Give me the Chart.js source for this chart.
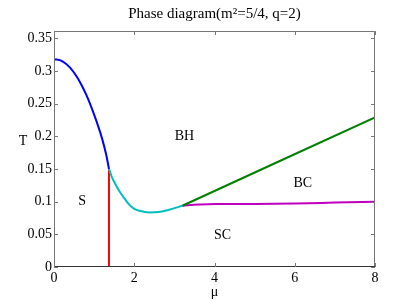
<!DOCTYPE html>
<html>
<head>
<meta charset="utf-8">
<script src="https://cdn.jsdelivr.net/npm/chart.js@4/dist/chart.umd.min.js"></script>
<style>
  html, body { margin: 0; padding: 0; background: #fff; }
  #wrap { width: 415px; height: 301px; }
</style>
</head>
<body>
<div id="wrap"><canvas id="c" width="415" height="301"></canvas></div>
<script>
// phase boundary curves (mu, T)
const blueMu = [0, 0.2, 0.4, 0.6, 0.8, 1.0, 1.2, 1.3, 1.37];
const blueT = [0.318, 0.315, 0.305, 0.288, 0.264, 0.233, 0.196, 0.172, 0.15];
const cyanMu = [1.37, 1.44, 1.51, 1.63, 1.76, 1.88, 2.0, 2.13, 2.38, 2.6, 2.87, 3.2];
const cyanT = [0.15, 0.138, 0.129, 0.116, 0.1045, 0.095, 0.089, 0.086, 0.0835, 0.084, 0.0877, 0.0937];
const redMu = [1.37, 1.37];
const redT = [0, 0.15];
const greenMu = [3.2, 8];
const greenT = [0.0937, 0.229];
const magentaMu = [3.2, 3.6, 4, 5, 6, 7, 8];
const magentaT = [0.0937, 0.0955, 0.0965, 0.0965, 0.097, 0.0985, 0.1];

const xTicks = [0, 2, 4, 6, 8];
const yTicks = [0, 0.05, 0.1, 0.15, 0.2, 0.25, 0.3, 0.35];

// region names and where they sit (mu, T)
const regionNames = ["BH", "S", "BC", "SC"];
const regionMu = [3.25, 0.7, 6.2, 4.2];
const regionT = [0.2, 0.1, 0.128, 0.048];

const serif = "'Liberation Serif', 'DejaVu Serif', serif";

const pts = (xs, ys) => xs.map((x, i) => ({ x: x, y: ys[i] }));

const mkSet = (xs, ys, color) => ({
  data: pts(xs, ys),
  borderColor: color,
  borderWidth: 2,
  pointRadius: 0,
  showLine: true,
  fill: false,
  cubicInterpolationMode: "monotone",
});

// box, inward ticks, T label and region names
const decor = {
  id: "decor",
  afterDraw(chart) {
    const ctx = chart.ctx;
    const a = chart.chartArea;
    const xs = chart.scales.x;
    const ys = chart.scales.y;
    ctx.save();
    ctx.lineWidth = 1;
    ctx.strokeStyle = "#777";
    ctx.beginPath();
    ctx.moveTo(a.left + 0.5, a.bottom);
    ctx.lineTo(a.left + 0.5, a.top + 0.5);
    ctx.lineTo(a.right - 0.5, a.top + 0.5);
    ctx.lineTo(a.right - 0.5, a.bottom);
    ctx.stroke();
    ctx.strokeStyle = "#333";
    ctx.beginPath();
    ctx.moveTo(a.left, a.bottom - 0.5);
    ctx.lineTo(a.right, a.bottom - 0.5);
    ctx.stroke();

    ctx.strokeStyle = "#777";
    ctx.beginPath();
    xTicks.forEach(v => {
      const px = Math.round(xs.getPixelForValue(v)) + 0.5;
      ctx.moveTo(px, a.bottom);
      ctx.lineTo(px, a.bottom - 4);
      ctx.moveTo(px, a.top);
      ctx.lineTo(px, a.top + 4);
    });
    yTicks.forEach(v => {
      const py = Math.round(ys.getPixelForValue(v)) + 0.5;
      ctx.moveTo(a.left, py);
      ctx.lineTo(a.left + 4, py);
      ctx.moveTo(a.right, py);
      ctx.lineTo(a.right - 4, py);
    });
    ctx.stroke();

    ctx.fillStyle = "#000";
    ctx.font = "14px " + serif;
    ctx.textAlign = "center";
    ctx.textBaseline = "middle";
    ctx.fillText("T", 23, ys.getPixelForValue(0.193));
    regionNames.forEach((name, i) => {
      ctx.fillText(name, xs.getPixelForValue(regionMu[i]), ys.getPixelForValue(regionT[i]));
    });
    ctx.restore();
  }
};

new Chart(document.getElementById("c"), {
  type: "scatter",
  data: {
    datasets: [
      mkSet(blueMu, blueT, "#0000ff"),
      mkSet(cyanMu, cyanT, "#00bfbf"),
      mkSet(redMu, redT, "#ff0000"),
      mkSet(greenMu, greenT, "#008000"),
      mkSet(magentaMu, magentaT, "#bf00bf"),
    ],
  },
  options: {
    responsive: false,
    animation: false,
    layout: { padding: { left: 0, right: 40, top: 0, bottom: 0 } },
    plugins: {
      legend: { display: false },
      tooltip: { enabled: false },
      title: {
        display: true,
        fullSize: false,
        text: "Phase diagram(m\u00B2=5/4, q=2)",
        color: "#000",
        font: { family: serif, size: 15, weight: "normal" },
        padding: { top: 5, bottom: 8 },
      },
    },
    scales: {
      x: {
        type: "linear",
        min: 0,
        max: 8,
        afterBuildTicks: s => { s.ticks = xTicks.map(v => ({ value: v })); },
        afterFit: s => { s.height = 34; },
        grid: { display: false, drawTicks: false },
        border: { display: false },
        ticks: { color: "#000", padding: 3, font: { family: serif, size: 14 } },
        title: {
          display: true,
          text: "\u03BC",
          color: "#000",
          padding: 0,
          font: { family: serif, size: 14 },
        },
      },
      y: {
        type: "linear",
        min: 0,
        max: 0.361,
        afterBuildTicks: s => { s.ticks = yTicks.map(v => ({ value: v })); },
        afterFit: s => { s.width = 54; },
        grid: { display: false, drawTicks: false },
        border: { display: false },
        ticks: {
          color: "#000",
          padding: 2,
          font: { family: serif, size: 14 },
          callback: v => String(Math.round(v * 100) / 100),
        },
      },
    },
  },
  plugins: [decor],
});
</script>
</body>
</html>
